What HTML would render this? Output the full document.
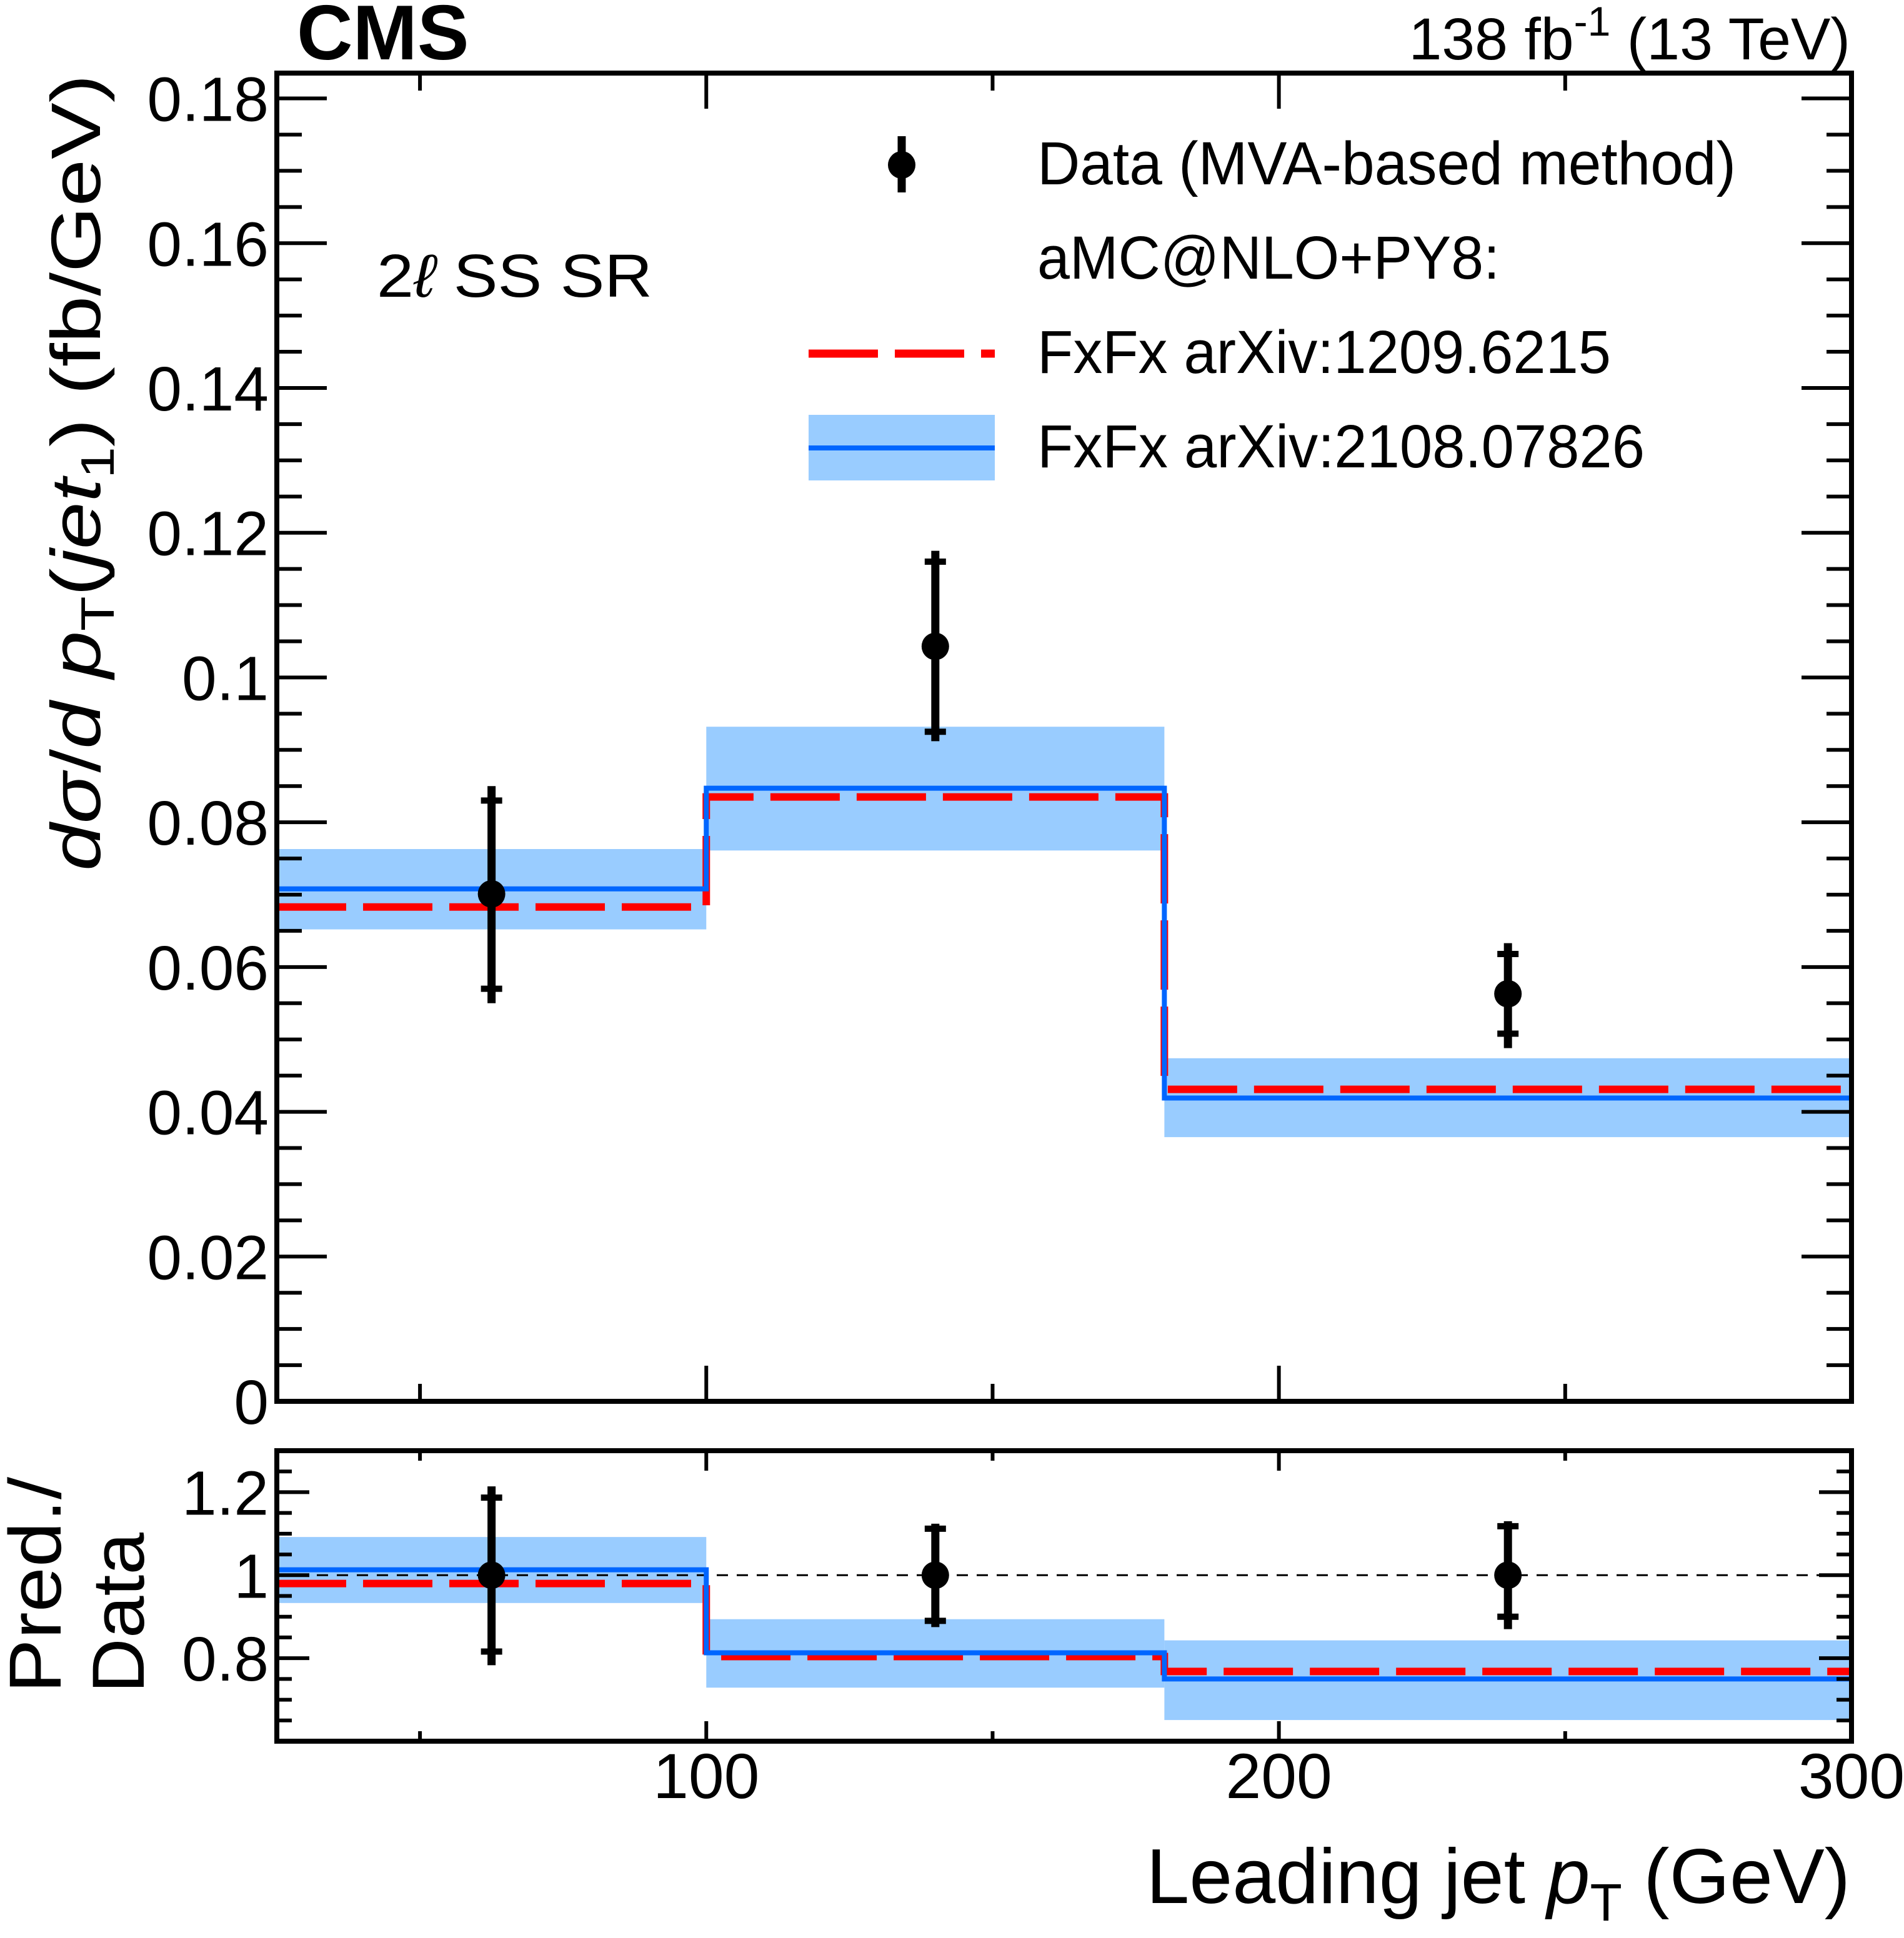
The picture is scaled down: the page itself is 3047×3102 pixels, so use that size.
<!DOCTYPE html>
<html><head><meta charset="utf-8"><style>
html,body{margin:0;padding:0;background:#fff;}
svg{display:block;font-family:"Liberation Sans",Arial,sans-serif;}
</style></head><body>
<svg id="chart" width="3047" height="3102" viewBox="0 0 3047 3102" xmlns="http://www.w3.org/2000/svg">
<g id="main"></g>
<g id="ratio"></g>
<g id="labels">
<text x="475" y="95" font-size="124" font-weight="bold">CMS</text>
<text x="2961" y="95" font-size="95" text-anchor="end">138 fb<tspan dy="-38" font-size="66">-1</tspan><tspan dy="38"> (13 TeV)</tspan></text>
<text x="603" y="475" font-size="97" textLength="441" lengthAdjust="spacingAndGlyphs">2<tspan font-style="italic">ℓ</tspan> SS SR</text>
<text transform="translate(160,1394) rotate(-90)" font-size="112" textLength="1275" lengthAdjust="spacingAndGlyphs"><tspan font-style="italic">d</tspan><tspan font-style="italic">σ</tspan>/<tspan font-style="italic">d p</tspan><tspan font-size="75" dy="22">T</tspan><tspan dy="-22">(</tspan><tspan font-style="italic">jet</tspan><tspan font-size="75" dy="22">1</tspan><tspan dy="-22">) (fb/GeV)</tspan></text>
<text transform="translate(97,2710) rotate(-90)" font-size="118" textLength="346" lengthAdjust="spacingAndGlyphs">Pred./</text>
<text transform="translate(230,2710) rotate(-90)" font-size="118" textLength="257" lengthAdjust="spacingAndGlyphs">Data</text>
<text x="2961" y="3046" font-size="124" text-anchor="end">Leading jet <tspan font-style="italic">p</tspan><tspan font-size="84" dy="28">T</tspan><tspan dy="-28"> (GeV)</tspan></text>
</g>
<g id="legend">
<line x1="1443" y1="218" x2="1443" y2="308" stroke="#000" stroke-width="13"/>
<circle cx="1443" cy="264" r="22" fill="#000"/>
<text x="1660" y="295" font-size="97" textLength="1118" lengthAdjust="spacingAndGlyphs">Data (MVA-based method)</text>
<text x="1660" y="446" font-size="97" textLength="740" lengthAdjust="spacingAndGlyphs">aMC@NLO+PY8:</text>
<line x1="1294" y1="566" x2="1592" y2="566" stroke="#ff0000" stroke-width="13" stroke-dasharray="111,27"/>
<text x="1660" y="597" font-size="97" textLength="918" lengthAdjust="spacingAndGlyphs">FxFx arXiv:1209.6215</text>
<rect x="1294" y="664" width="298" height="105" fill="#99ccff"/>
<line x1="1294" y1="717" x2="1592" y2="717" stroke="#0066ff" stroke-width="8"/>
<text x="1660" y="748" font-size="97" textLength="972" lengthAdjust="spacingAndGlyphs">FxFx arXiv:2108.07826</text>
</g>
</svg>
<script>
const binEdges = [25, 100, 180, 300];
const dataX = [62.5, 140, 240];
const dataY = [0.0701, 0.1043, 0.0563];
const dataErrUp = [0.085, 0.1175, 0.0633];
const dataErrDn = [0.055, 0.0912, 0.0488];
const dataCapUp = [0.083, 0.116, 0.0618];
const dataCapDn = [0.057, 0.0925, 0.0508];
const redPred = [0.0683, 0.0835, 0.0431];
const bluePred = [0.0708, 0.0847, 0.0419];
const bandLo = [0.0652, 0.0761, 0.0365];
const bandHi = [0.0763, 0.0932, 0.0474];
const ratioData = [1, 1, 1];
const ratioErrUp = [1.214, 1.124, 1.13];
const ratioErrDn = [0.783, 0.875, 0.87];
const ratioCapUp = [1.187, 1.112, 1.118];
const ratioCapDn = [0.816, 0.89, 0.9];
const ratioRed = [0.98, 0.804, 0.768];
const ratioBlue = [1.013, 0.813, 0.75];
const ratioBandLo = [0.933, 0.729, 0.651];
const ratioBandHi = [1.092, 0.894, 0.843];
const mainYTicks = [0, 0.02, 0.04, 0.06, 0.08, 0.1, 0.12, 0.14, 0.16, 0.18];
const mainYTickLabels = ["0", "0.02", "0.04", "0.06", "0.08", "0.1", "0.12", "0.14", "0.16", "0.18"];
const ratioYTicks = [0.8, 1, 1.2];
const ratioYTickLabels = ["0.8", "1", "1.2"];
const xTicks = [100, 200, 300];
const xTickLabels = ["100", "200", "300"];

const NS = "http://www.w3.org/2000/svg";
const L = 443, R = 2963;
const X0 = 25, X1 = 300;
const MT = 117, MB = 2243, MY0 = 0, MY1 = 0.1835;
const RT = 2322, RB = 2787, RY0 = 0.6, RY1 = 1.3;
function sx(v){ return L + (v - X0) / (X1 - X0) * (R - L); }
function syM(v){ return MB - (v - MY0) / (MY1 - MY0) * (MB - MT); }
function syR(v){ return RB - (v - RY0) / (RY1 - RY0) * (RB - RT); }
function mk(tag, attrs, parent){
  const e = document.createElementNS(NS, tag);
  for (const k in attrs) e.setAttribute(k, attrs[k]);
  parent.appendChild(e);
  return e;
}
function stepPath(vals, sy){
  let d = "";
  for (let i = 0; i < vals.length; i++){
    const y = sy(vals[i]);
    d += (i === 0 ? "M" + sx(binEdges[0]) + "," + y : "L" + sx(binEdges[i]) + "," + y) + " L" + sx(binEdges[i+1]) + "," + y + " ";
  }
  return d;
}
function panel(g, sy, top, bot, lo, hi, blue, red, dY, eU, eD, cU, cD, yt, ytl, minorStep, minorStart, minorEnd, majLen, minLen, xMaj, xMin, isRatio){
  for (let i = 0; i < lo.length; i++){
    const r = mk("rect", {x: sx(binEdges[i]), y: sy(hi[i]), width: sx(binEdges[i+1]) - sx(binEdges[i]), height: sy(lo[i]) - sy(hi[i]), fill: "#99ccff"}, g);
    
    
  }
  if (isRatio){
    const ln = mk("line", {x1: L, x2: R, y1: sy(1), y2: sy(1), stroke: "#000", "stroke-width": 3, "stroke-dasharray": "18,14"}, g);
    
    
  }
  const rp = mk("path", {d: stepPath(red, sy), fill: "none", stroke: "#ff0000", "stroke-width": 12, "stroke-dasharray": "111,27"}, g);
  
  
  const bp = mk("path", {d: stepPath(blue, sy), fill: "none", stroke: "#0066ff", "stroke-width": 8}, g);
  
  
  for (let i = 0; i < dY.length; i++){
    const x = sx(dataX[i]);
    const b = mk("line", {x1: x, x2: x, y1: sy(eU[i]), y2: sy(eD[i]), stroke: "#000", "stroke-width": 13}, g);
    
    
    [cU[i], cD[i]].forEach(function(c){
      const cap = mk("line", {x1: x - 17, x2: x + 17, y1: sy(c), y2: sy(c), stroke: "#000", "stroke-width": 10}, g);
      
      
    });
    const p = mk("circle", {cx: x, cy: sy(dY[i]), r: 22, fill: "#000"}, g);
    
    
  }
  for (let v = minorStart; v <= minorEnd + 1e-9; v += minorStep){
    const isMaj = yt.some(function(t){ return Math.abs(t - v) < 1e-6; });
    const len = isMaj ? majLen : minLen;
    const y = sy(v);
    const t1 = mk("line", {x1: L, x2: L + len, y1: y, y2: y, stroke: "#000", "stroke-width": 6}, g);
    
    
    const t2 = mk("line", {x1: R, x2: R - len, y1: y, y2: y, stroke: "#000", "stroke-width": 6}, g);
    
    
  }
  for (let i = 0; i < yt.length; i++){
    const t = mk("text", {x: 430, y: sy(yt[i]) + 36, "font-size": 100, "text-anchor": "end"}, g);
    t.textContent = ytl[i];
    
    
  }
  for (let v = 50; v <= 300; v += 50){
    const len = (v % 100 === 0) ? xMaj : xMin;
    const x = sx(v);
    const a = mk("line", {x1: x, x2: x, y1: bot, y2: bot - len, stroke: "#000", "stroke-width": 6}, g);
    
    
    const b = mk("line", {x1: x, x2: x, y1: top, y2: top + len, stroke: "#000", "stroke-width": 6}, g);
    
    
  }
  const f = mk("rect", {x: L, y: top, width: R - L, height: bot - top, fill: "none", stroke: "#000", "stroke-width": 8}, g);
  
  
}
const gm = document.getElementById("main");
panel(gm, syM, MT, MB, bandLo, bandHi, bluePred, redPred, dataY, dataErrUp, dataErrDn, dataCapUp, dataCapDn,
  mainYTicks, mainYTickLabels, 0.005, 0, 0.18, 80, 40, 57, 28, false);
const gr = document.getElementById("ratio");
panel(gr, syR, RT, RB, ratioBandLo, ratioBandHi, ratioBlue, ratioRed, ratioData, ratioErrUp, ratioErrDn, ratioCapUp, ratioCapDn,
  ratioYTicks, ratioYTickLabels, 0.05, 0.65, 1.25, 52, 24, 32, 16, true);
for (let i = 0; i < xTicks.length; i++){
  const t = mk("text", {x: sx(xTicks[i]), y: 2878, "font-size": 102, "text-anchor": "middle"}, gr);
  t.textContent = xTickLabels[i];
  
  
}
</script>
</body></html>
